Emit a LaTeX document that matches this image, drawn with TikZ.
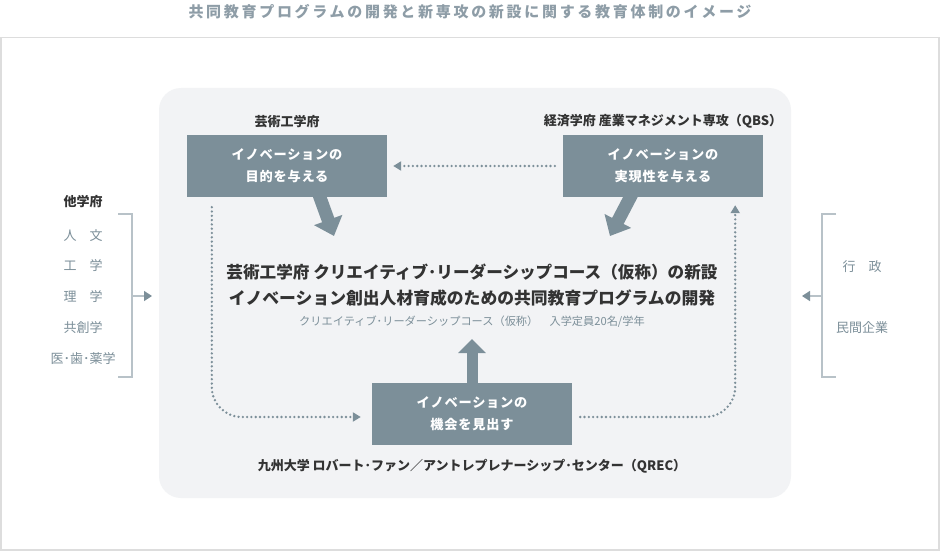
\documentclass[tikz,border=0pt]{standalone}
\usepackage{fontspec}
\setmainfont{Noto Sans CJK JP}
\usetikzlibrary{arrows.meta,positioning}
\definecolor{slate}{HTML}{7C8F99}
\definecolor{panel}{HTML}{F2F3F5}
\definecolor{frame}{HTML}{DDDDDD}
\definecolor{ink}{HTML}{333333}
\definecolor{titlegray}{HTML}{8E9DA7}
\definecolor{bracket}{HTML}{B8C2C8}

\begin{document}
\begin{tikzpicture}[
      x=1pt, y=-1pt,
      role/.style={rectangle, fill=slate, text=white, inner sep=0pt, minimum width=200pt, minimum height=62pt, align=center,
        font=\fontsize{13.2}{22}\selectfont\bfseries\addfontfeatures{LetterSpace=6}},
      school/.style={text=ink, font=\fontsize{13}{15}\selectfont\bfseries},
      member/.style={text=slate, font=\fontsize{13}{15}\selectfont},
      flow/.style={slate, line width=2.6pt, dash pattern=on 0pt off 4.3pt, line cap=round, rounded corners=30pt,
        -{Triangle[width=9pt,length=8pt]}},
      bigarrow/.style={slate, line width=13pt, -{Triangle[width=29pt,length=17pt]}},
      brace/.style={bracket, line width=1.2pt},
      hint/.style={bracket, line width=1.5pt, -{Triangle[width=10pt,length=8pt,color=slate]}}
    ]
    \useasboundingbox (0,0) rectangle (940,551);
    \draw[frame, line width=1.5pt, fill=white] (1,37.5) rectangle (939,550);
    \fill[panel, rounded corners=22pt] (159,88) rectangle (791,498);

    \node[text=titlegray, font=\fontsize{15}{17}\selectfont\bfseries\addfontfeatures{LetterSpace=18}] (title) at (470,12)
      {共同教育プログラムの開発と新専攻の新設に関する教育体制のイメージ};

    % three roles
    \node[role] (purpose) at (287,166) {イノベーションの\\目的を与える};
    \node[role] (realize) at (663,166) {イノベーションの\\実現性を与える};
    \node[role] (chance) at (472,414) {イノベーションの\\機会を見出す};
    \node[school, above=3pt of purpose] (design) {芸術工学府};
    \node[school, above=3pt of realize] (qbs) {経済学府 産業マネジメント専攻（QBS）};
    \node[school, below=11pt of chance] (qrec) {九州大学 ロバート･ファン／アントレプレナーシップ･センター（QREC）};

    % the new course
    \node[text=ink, font=\fontsize{16.6}{20}\selectfont\bfseries] (course) at (472,272)
      {芸術工学府 クリエイティブ･リーダーシップコース（仮称）の新設};
    \node[text=ink, font=\fontsize{16.8}{20}\selectfont\bfseries] (program) at (472,298)
      {イノベーション創出人材育成のための共同教育プログラムの開発};
    \node[text=slate, font=\fontsize{11.2}{13}\selectfont] (capacity) at (472,322)
      {クリエイティブ･リーダーシップコース（仮称）　入学定員20名/学年};

    \draw[bigarrow] ([xshift=30pt,yshift=8pt]purpose.south) -- (334,236);
    \draw[bigarrow] ([xshift=-28pt,yshift=9pt]realize.south) -- (610,236);
    \draw[bigarrow, line width=11pt, -{Triangle[width=27pt,length=14pt]}] ([yshift=-4pt]chance.north) -- (472,339);

    \draw[flow] ([xshift=-8pt]realize.west) -- ([xshift=6pt]purpose.east);
    \draw[flow] ([xshift=25pt,yshift=-10pt]purpose.south west) |- ([xshift=-11pt,yshift=-3pt]chance.west);
    \draw[flow] ([xshift=8pt,yshift=-3pt]chance.east) -| ([xshift=-28pt,yshift=-8pt]realize.south east);

    % other schools
    \node[school] (others) at (83,202) {他学府};
    \node[member] (humanities) at (83,236) {人　文};
    \node[member] (engineering) at (83,266) {工　学};
    \node[member] (science) at (83,297) {理　学};
    \node[member] (cocreation) at (83,328) {共創学};
    \node[member] (medicine) at (83,359) {医･歯･薬学};
    \draw[brace] (118,214) -- (132,214) -- (132,377) -- (118,377);
    \coordinate (left in) at (132,296);
    \coordinate (left out) at (152,296);
    \draw[hint] (left in) -- (left out);

    % partners
    \node[member] (government) at (862,267) {行　政};
    \node[member] (industry) at (862,328) {民間企業};
    \draw[brace] (836,214) -- (822,214) -- (822,377) -- (836,377);
    \coordinate (right in) at (822,296);
    \coordinate (right out) at (802,296);
    \draw[hint] (right in) -- (right out);
    \end{tikzpicture}
\end{document}
